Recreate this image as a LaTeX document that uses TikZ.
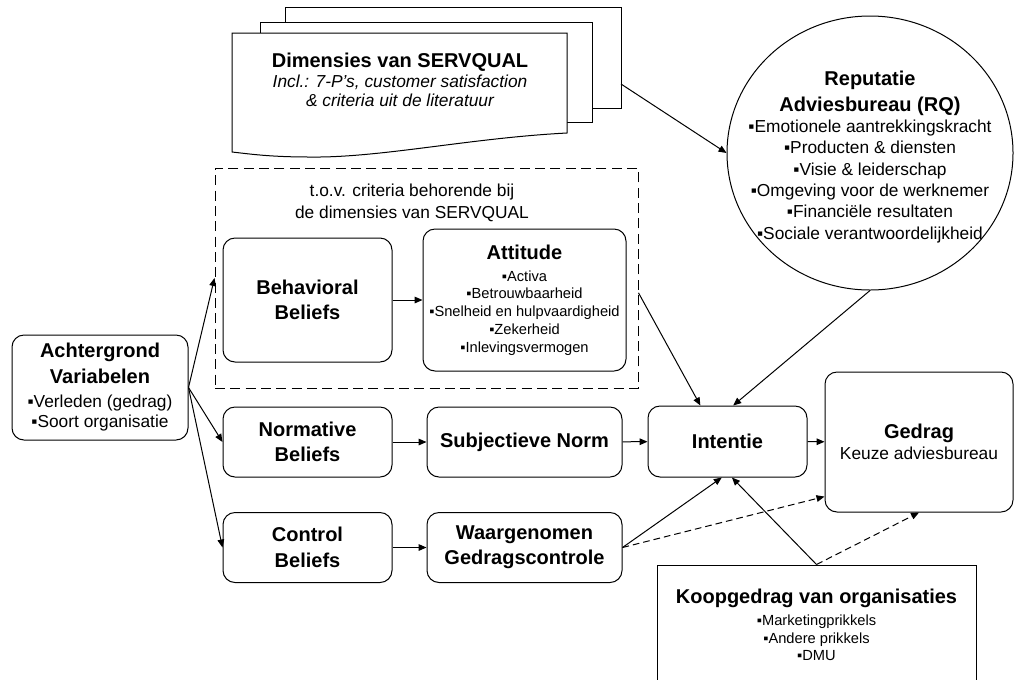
\documentclass[tikz,border=0pt]{standalone}
\usepackage{fontspec}
\setmainfont{Liberation Sans}
\usetikzlibrary{arrows.meta, positioning, shapes.geometric}

\newcommand{\titel}{\fontsize{15}{19}\selectfont\normalfont\bfseries}
\newcommand{\gewoon}{\fontsize{13}{16}\selectfont}
\newcommand{\klein}{\fontsize{11}{13.3}\selectfont}
\newcommand{\bul}{▪}

\begin{document}
\begin{tikzpicture}[
    x=0.75pt, y=-0.75pt,
    line width=0.75pt,
    box/.style={
        draw,
        rectangle,
        rounded corners=9pt,
        align=center,
        inner sep=2pt
    },
    smallbox/.style={box, minimum width=126.75pt, minimum height=52.5pt, font=\titel},
    midbox/.style={box, minimum width=146.25pt, minimum height=52.5pt, font=\titel},
    arrow/.style={-{Triangle[length=6pt,width=5pt]}},
    dasharrow/.style={arrow, dash pattern=on 5pt off 3pt},
    page/.style={draw, fill=white}
]
\useasboundingbox (0,0) rectangle (1016,679);

% stapel documenten
\draw[page] (285,7) rectangle (621,108);
\draw[page] (260,22) rectangle (592,122);
\draw[page] (232,33) -- (567,33) -- (567,133)
    .. controls (470,138) and (380,158) .. (310,157)
    .. controls (270,157) and (250,154) .. (232,152) -- cycle;
\node[align=center, font=\fontsize{13}{14}\selectfont\itshape] (servqual) at (400,80)
    {\titel Dimensies van SERVQUAL\\[1pt]
     Incl.: 7-P's, customer satisfaction\\
     \& criteria uit de literatuur};
\coordinate (stapel) at (621,84);

% reputatie
\node[draw, ellipse, minimum width=214.5pt, minimum height=205.5pt] (reputatie) at (870,153) {};
\node[align=center, font=\gewoon] (rq) at (870,157)
    {\titel Reputatie\\[3pt]
     \titel Adviesbureau (RQ)\\
     \bul Emotionele aantrekkingskracht\\
     \bul Producten \& diensten\\
     \bul Visie \& leiderschap\\
     \bul Omgeving voor de werknemer\\
     \bul Financiële resultaten\\
     \bul Sociale verantwoordelijkheid};

% criteria SERVQUAL
\node[draw, dash pattern=on 7.5pt off 4pt, minimum width=317.25pt, minimum height=165pt] (criteria) at (426.5,278) {};
\node[align=center, font=\gewoon] (tov) at (412,203)
    {t.o.v. criteria behorende bij\\de dimensies van SERVQUAL};

\node[box, minimum width=126.75pt, minimum height=93pt, font=\titel] (behavioral) at (307.5,300)
    {Behavioral\\Beliefs};
\node[box, minimum width=152.25pt, minimum height=106.5pt, font=\klein] (attitude) at (524.5,300)
    {\titel Attitude\\[3pt]
     \bul Activa\\
     \bul Betrouwbaarheid\\
     \bul Snelheid en hulpvaardigheid\\
     \bul Zekerheid\\
     \bul Inlevingsvermogen};

% linker kolom
\node[box, minimum width=132pt, minimum height=78.75pt, font=\fontsize{13}{15.5}\selectfont] (achtergrond) at (100,387.5)
    {\titel Achtergrond\\[4pt]
     \titel Variabelen\\[2pt]
     \bul Verleden (gedrag)\\
     \bul Soort organisatie};

\node[smallbox] (normative) at (307.5,442) {Normative\\Beliefs};
\node[smallbox] (control) at (307.5,547.5) {Control\\Beliefs};
\node[midbox] (subjectief) at (524.5,442) {Subjectieve Norm};
\node[midbox] (waargenomen) at (524.5,547.5) {Waargenomen\\Gedragscontrole};
\node[box, minimum width=119.25pt, minimum height=53.25pt, font=\titel] (intentie) at (727.5,441.5) {Intentie};
\node[box, minimum width=141pt, minimum height=105pt, font=\gewoon] (gedrag) at (919,442)
    {\titel Gedrag\\Keuze adviesbureau};

\node[draw, rectangle, align=center, minimum width=239.25pt, minimum height=90pt, font=\klein] (koopgedrag) at (816.5,625)
    {\titel Koopgedrag van organisaties\\[3pt]
     \bul Marketingprikkels\\
     \bul Andere prikkels\\
     \bul DMU};

% pijlen
\draw[arrow] (stapel) -- (reputatie.west);
\draw[arrow] (achtergrond.east) -- (criteria.west);
\draw[arrow] (achtergrond.east) -- (normative.west);
\draw[arrow] (achtergrond.east) -- (control.west);
\draw[arrow] (behavioral) -- (attitude);
\draw[arrow] (normative) -- (subjectief);
\draw[arrow] (control) -- (waargenomen);
\draw[arrow] (subjectief) -- (intentie);
\draw[arrow] (intentie) -- (gedrag);
\draw[arrow] (criteria.356) -- (intentie.127.8);
\draw[arrow] (reputatie.south) -- (intentie.81.2);
\draw[arrow] (waargenomen.east) -- (intentie.261.2);
\draw[arrow] (koopgedrag.north) -- (intentie.277.2);
\draw[dasharrow] (waargenomen.east) -- (gedrag.210.8);
\draw[dasharrow] (koopgedrag.north) -- (gedrag.south);

\end{tikzpicture}
\end{document}
